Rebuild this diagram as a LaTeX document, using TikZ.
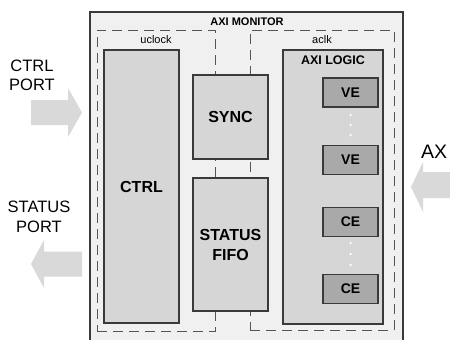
\documentclass[tikz,border=0pt]{standalone}
\usepackage{fontspec}
\setmainfont{Liberation Sans}
\definecolor{outerfill}{HTML}{F0F0F0}
\definecolor{boxfill}{HTML}{D6D6D6}
\definecolor{elfill}{HTML}{A9A9A9}
\definecolor{edge}{HTML}{3A3A3A}
\definecolor{arrowfill}{HTML}{D9D9D9}
\definecolor{dashc}{HTML}{555555}
\tikzset{
  box/.style={draw=edge, line width=1.5pt, fill=boxfill, inner sep=0pt, rectangle},
  elbox/.style={draw=edge, line width=1.5pt, fill=elfill, inner sep=0pt, rectangle, minimum width=55pt, minimum height=29pt, font=\fontsize{14}{16}\selectfont\bfseries},
  region/.style={draw=dashc, line width=1pt, dash pattern=on 10pt off 6pt, inner sep=0pt, rectangle},
  bigarrow/.style={fill=arrowfill, draw=none},
  porttext/.style={font=\fontsize{16.5}{19.5}\selectfont, align=center, inner sep=0pt},
  blocktext/.style={font=\fontsize{16}{20}\selectfont\bfseries, align=center, inner sep=0pt},
  dotw/.style={fill=white, draw=none, circle, inner sep=0pt, minimum size=2.5pt}
}
\begin{document}
\begin{tikzpicture}[x=1pt, y=-1pt]
\clip (0,0) rectangle (450,340);
\fill[white] (0,0) rectangle (450,340);
% outer monitor box
\draw[draw=edge, line width=2pt, fill=outerfill] (90,12) rectangle (403,360);
\node[font=\fontsize{11}{13}\selectfont\bfseries, inner sep=0pt] (mon) at (247,22) {AXI MONITOR};
% clock regions
\node[region, minimum width=118pt, minimum height=301pt] (uclk) at (156,180.5) {};
\node[region, minimum width=144pt, minimum height=300pt] (aclk) at (322,180) {};
\node[font=\fontsize{11}{13}\selectfont, inner sep=0pt] (uclklbl) at (156,40) {uclock};
\node[font=\fontsize{11}{13}\selectfont, inner sep=0pt] (aclklbl) at (322,40) {aclk};
% blocks
\node[box, minimum width=75pt, minimum height=273pt] (ctrl) at (141.5,186.5) {};
\node[blocktext] (ctrllbl) at (141.5,186.5) {CTRL};
\node[box, minimum width=75pt, minimum height=84pt, blocktext] (sync) at (230.5,117) {SYNC};
\node[box, minimum width=75pt, minimum height=133pt, blocktext] (fifo) at (230.5,244.5) {STATUS\\FIFO};
\node[box, minimum width=100pt, minimum height=274pt] (axil) at (333,187) {};
\node[font=\fontsize{12.5}{15}\selectfont\bfseries, inner sep=0pt] (axillbl) at (333,60) {AXI LOGIC};
\node[elbox] (ve1) at (350.5,92.5) {VE};
\node[elbox] (ve2) at (350.5,160) {VE};
\node[elbox] (ce1) at (350.5,222) {CE};
\node[elbox] (ce2) at (350.5,289) {CE};
\foreach \y [count=\i] in {115,125,135} \node[dotw] (dv\i) at (350.5,\y) {};
\foreach \y [count=\i] in {243,254,265} \node[dotw] (dc\i) at (350.5,\y) {};
% port arrows
\fill[bigarrow] (31,100) -- (68,100) -- (68,88) -- (82,112.5) -- (68,137) -- (68,125) -- (31,125) -- cycle;
\node[porttext] (ctrlport) at (32,75.5) {CTRL\\PORT};
\fill[bigarrow] (82,251.5) -- (44,251.5) -- (44,240) -- (31,264) -- (44,288) -- (44,276.5) -- (82,276.5) -- cycle;
\node[porttext] (statport) at (39,217) {STATUS\\PORT};
\fill[bigarrow] (460,172) -- (423,172) -- (423,162) -- (411,187) -- (423,212) -- (423,198) -- (460,198) -- cycle;
\node[font=\fontsize{19.5}{22}\selectfont, inner sep=0pt, anchor=west] (ax) at (421,152) {AX};
\end{tikzpicture}
\end{document}
